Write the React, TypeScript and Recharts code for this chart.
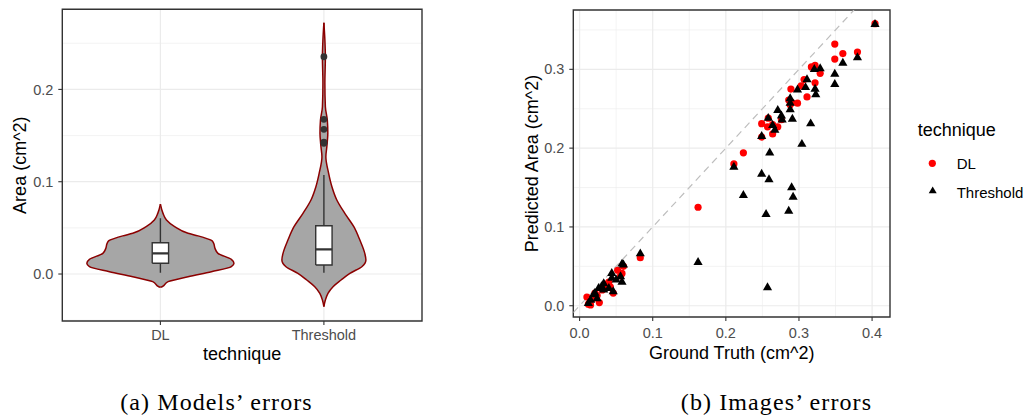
import {
  Area,
  CartesianGrid,
  ComposedChart,
  Line,
  ReferenceArea,
  Scatter,
  ScatterChart,
  XAxis,
  YAxis,
} from "recharts";

const techniques = ["DL", "Threshold"];

// violin outlines: area value and half width (category units)
const dlViolinY = [-0.0144, -0.0138, -0.0083, -0.0029, 0.0025, 0.0079, 0.0116, 0.0159, 0.0224, 0.0278, 0.0332, 0.0362, 0.0386, 0.0413, 0.0441, 0.0513, 0.0585, 0.0657, 0.0758];
const dlViolinHalf = [0, 0.01, 0.047, 0.169, 0.312, 0.434, 0.45, 0.434, 0.352, 0.334, 0.326, 0.315, 0.28, 0.23, 0.169, 0.087, 0.037, 0.016, 0];

const thViolinY = [-0.0354, -0.0282, -0.0209, -0.0137, -0.0065, 0.0007, 0.0079, 0.0152, 0.0224, 0.0368, 0.0513, 0.0657, 0.0802, 0.0946, 0.1091, 0.1271, 0.1379, 0.1524, 0.1668, 0.1813, 0.2066, 0.2354, 0.2535, 0.2723];
const thViolinHalf = [0, 0.009, 0.025, 0.056, 0.105, 0.159, 0.232, 0.257, 0.25, 0.22, 0.183, 0.128, 0.079, 0.049, 0.029, 0.012, 0.018, 0.024, 0.021, 0.009, 0.006, 0.009, 0.006, 0];

// [whisker low, q1, median, q3, whisker high]
const dlBox = [0.0014, 0.0116, 0.0224, 0.0339, 0.0603];
const thBox = [0.0014, 0.0098, 0.0268, 0.0523, 0.1073];
const thOutliers = [0.2354, 0.1676, 0.1568, 0.143, 0.1416];

// panel (b): ground truth vs predicted area
const dlTruth = [0.404, 0.349, 0.36, 0.38, 0.349, 0.322, 0.317, 0.329, 0.322, 0.307, 0.303, 0.289, 0.311, 0.286, 0.298, 0.288, 0.258, 0.249, 0.257, 0.271, 0.264, 0.249, 0.224, 0.211, 0.162, 0.083, 0.06, 0.058, 0.056, 0.042, 0.046, 0.035, 0.027, 0.015, 0.01, 0.012, 0.021, 0.031, 0.024, 0.018, 0.04, 0.052, 0.276, 0.264, 0.29];
const dlPred = [0.358, 0.332, 0.32, 0.322, 0.313, 0.305, 0.303, 0.295, 0.283, 0.287, 0.279, 0.275, 0.265, 0.261, 0.257, 0.255, 0.238, 0.231, 0.227, 0.227, 0.218, 0.214, 0.194, 0.18, 0.125, 0.061, 0.05, 0.041, 0.038, 0.024, 0.016, 0.027, 0.004, 0.001, 0.011, 0.002, 0.016, 0.02, 0.013, 0.009, 0.03, 0.045, 0.236, 0.23, 0.258];

const thTruth = [0.404, 0.36, 0.38, 0.349, 0.349, 0.329, 0.321, 0.311, 0.309, 0.298, 0.322, 0.323, 0.288, 0.288, 0.288, 0.271, 0.276, 0.291, 0.258, 0.277, 0.264, 0.267, 0.316, 0.249, 0.304, 0.26, 0.249, 0.259, 0.224, 0.29, 0.292, 0.255, 0.286, 0.257, 0.211, 0.162, 0.083, 0.058, 0.06, 0.056, 0.044, 0.058, 0.046, 0.033, 0.026, 0.033, 0.019, 0.015, 0.012, 0.04, 0.024, 0.044, 0.03, 0.021, 0.05];
const thPred = [0.357, 0.308, 0.315, 0.294, 0.281, 0.301, 0.3, 0.287, 0.277, 0.274, 0.275, 0.268, 0.263, 0.257, 0.249, 0.248, 0.241, 0.237, 0.238, 0.236, 0.229, 0.223, 0.231, 0.215, 0.205, 0.194, 0.167, 0.16, 0.14, 0.15, 0.138, 0.116, 0.12, 0.023, 0.176, 0.055, 0.066, 0.053, 0.052, 0.037, 0.041, 0.03, 0.018, 0.028, 0.022, 0.02, 0.014, 0.007, 0.003, 0.022, 0.009, 0.035, 0.024, 0.016, 0.033];

const axisTick = { fill: "#4D4D4D", fontSize: 14.5 };
const titleStyle = { fill: "#000", fontSize: 18, textAnchor: "middle" as const };
const BOX_HALF = 0.05;

const violinRows = (ys: number[], hw: number[], pos: number) =>
  ys.map((y, i) => ({ y, band: [pos - hw[i], pos + hw[i]] }));
const boxFillRows = (b: number[], pos: number) => [
  { y: b[1], band: [pos - BOX_HALF, pos + BOX_HALF] },
  { y: b[3], band: [pos - BOX_HALF, pos + BOX_HALF] },
];
const boxEdgeRows = (b: number[], pos: number) => [
  { x: pos - BOX_HALF, y: b[1] },
  { x: pos + BOX_HALF, y: b[1] },
  { x: pos + BOX_HALF, y: b[3] },
  { x: pos - BOX_HALF, y: b[3] },
  { x: pos - BOX_HALF, y: b[1] },
];

const toPoints = (xs: number[], ys: number[]) => xs.map((x, i) => ({ x, y: ys[i] }));

const Dot = (props: any) => <circle cx={props.cx} cy={props.cy} r={3.6} fill="#FF0000" />;
const Tri = (props: any) => {
  const { cx, cy } = props;
  const r = 5.3;
  return (
    <path
      d={`M${cx},${cy - r}L${cx + r * 0.866},${cy + r / 2}L${cx - r * 0.866},${cy + r / 2}Z`}
      fill="#000"
    />
  );
};
const Outlier = (props: any) => <circle cx={props.cx} cy={props.cy} r={3.4} fill="#333333" />;

function ViolinPanel() {
  const boxes = [dlBox, thBox];
  return (
    <ComposedChart
      layout="vertical"
      width={440}
      height={380}
      margin={{ top: 9.3, right: 18, bottom: 0, left: 12.3 }}
    >
      <CartesianGrid stroke="#EBEBEB" strokeWidth={0.6} horizontalValues={[-0.05, 0.05, 0.15, 0.25]} vertical={false} />
      <CartesianGrid stroke="#EBEBEB" strokeWidth={1.2} horizontalValues={[0, 0.1, 0.2]} verticalValues={[1, 2]} />
      <XAxis
        type="number"
        domain={[0.4, 2.6]}
        allowDataOverflow
        ticks={[1, 2]}
        tickFormatter={(v: number) => techniques[v - 1]}
        tick={axisTick}
        tickSize={4}
        tickMargin={5}
        axisLine={false}
        tickLine={{ stroke: "#333", strokeWidth: 1.1 }}
        height={59}
        label={{ value: "technique", position: "insideBottom", offset: 20, style: titleStyle }}
      />
      <YAxis
        type="number"
        dataKey="y"
        reversed
        domain={[-0.0509, 0.2868]}
        allowDataOverflow
        ticks={[0, 0.1, 0.2]}
        tickFormatter={(v: number) => v.toFixed(1)}
        tick={axisTick}
        tickSize={4}
        tickMargin={5}
        axisLine={false}
        tickLine={{ stroke: "#333", strokeWidth: 1.1 }}
        width={50}
        label={{ value: "Area (cm^2)", angle: -90, position: "insideLeft", offset: 6.9, style: titleStyle }}
      />
      <Area
        data={violinRows(dlViolinY, dlViolinHalf, 1)}
        dataKey="band"
        type="monotone"
        fill="#A6A6A6"
        fillOpacity={1}
        stroke="#8B0000"
        strokeWidth={1.5}
        dot={false}
        activeDot={false}
        isAnimationActive={false}
      />
      <Area
        data={violinRows(thViolinY, thViolinHalf, 2)}
        dataKey="band"
        type="monotone"
        fill="#A6A6A6"
        fillOpacity={1}
        stroke="#8B0000"
        strokeWidth={1.5}
        dot={false}
        activeDot={false}
        isAnimationActive={false}
      />
      {boxes.map((b, i) => (
        <Area
          key={`fill${i}`}
          data={boxFillRows(b, i + 1)}
          dataKey="band"
          type="linear"
          fill="#FFFFFF"
          fillOpacity={1}
          stroke="none"
          dot={false}
          activeDot={false}
          isAnimationActive={false}
        />
      ))}
      {boxes.map((b, i) => (
        <Line
          key={`edge${i}`}
          data={boxEdgeRows(b, i + 1)}
          dataKey="x"
          type="linear"
          stroke="#333333"
          strokeWidth={1.4}
          dot={false}
          activeDot={false}
          isAnimationActive={false}
        />
      ))}
      {boxes.map((b, i) => (
        <Line
          key={`lo${i}`}
          data={[{ x: i + 1, y: b[0] }, { x: i + 1, y: b[1] }]}
          dataKey="x"
          type="linear"
          stroke="#333333"
          strokeWidth={1.4}
          dot={false}
          activeDot={false}
          isAnimationActive={false}
        />
      ))}
      {boxes.map((b, i) => (
        <Line
          key={`hi${i}`}
          data={[{ x: i + 1, y: b[3] }, { x: i + 1, y: b[4] }]}
          dataKey="x"
          type="linear"
          stroke="#333333"
          strokeWidth={1.4}
          dot={false}
          activeDot={false}
          isAnimationActive={false}
        />
      ))}
      {boxes.map((b, i) => (
        <Line
          key={`med${i}`}
          data={[{ x: i + 1 - BOX_HALF, y: b[2] }, { x: i + 1 + BOX_HALF, y: b[2] }]}
          dataKey="x"
          type="linear"
          stroke="#333333"
          strokeWidth={2.2}
          dot={false}
          activeDot={false}
          isAnimationActive={false}
        />
      ))}
      <Scatter
        data={thOutliers.map((y) => ({ x: 2, y }))}
        dataKey="x"
        shape={Outlier}
        isAnimationActive={false}
      />
      <ReferenceArea x1={0.4} x2={2.6} y1={-0.0509} y2={0.2868} fill="none" stroke="#333333" strokeWidth={1.4} />
    </ComposedChart>
  );
}

function ScatterPanel() {
  return (
    <ScatterChart width={440} height={380} margin={{ top: 10, right: 20, bottom: 0, left: 53.3 }}>
      <CartesianGrid
        stroke="#EBEBEB"
        strokeWidth={0.6}
        horizontalValues={[0.05, 0.15, 0.25, 0.35]}
        verticalValues={[0.05, 0.15, 0.25, 0.35]}
      />
      <CartesianGrid
        stroke="#EBEBEB"
        strokeWidth={1.2}
        horizontalValues={[0, 0.1, 0.2, 0.3]}
        verticalValues={[0, 0.1, 0.2, 0.3, 0.4]}
      />
      <XAxis
        type="number"
        dataKey="x"
        domain={[-0.0086, 0.4245]}
        allowDataOverflow
        ticks={[0, 0.1, 0.2, 0.3, 0.4]}
        tickFormatter={(v: number) => v.toFixed(1)}
        tick={axisTick}
        tickSize={4}
        tickMargin={7}
        axisLine={false}
        tickLine={{ stroke: "#333", strokeWidth: 1.1 }}
        height={63}
        label={{ value: "Ground Truth (cm^2)", position: "insideBottom", offset: 21, style: titleStyle }}
      />
      <YAxis
        type="number"
        dataKey="y"
        domain={[-0.0143, 0.3753]}
        allowDataOverflow
        ticks={[0, 0.1, 0.2, 0.3]}
        tickFormatter={(v: number) => v.toFixed(1)}
        tick={axisTick}
        tickSize={4}
        tickMargin={5}
        axisLine={false}
        tickLine={{ stroke: "#333", strokeWidth: 1.1 }}
        width={50}
        label={{ value: "Predicted Area (cm^2)", angle: -90, position: "insideLeft", offset: 8.4, style: titleStyle }}
      />
      <Scatter
        data={[{ x: -0.0086, y: -0.0086 }, { x: 0.3753, y: 0.3753 }]}
        line={{ stroke: "#BEBEBE", strokeWidth: 1.2, strokeDasharray: "7 5" }}
        shape={() => null}
        isAnimationActive={false}
      />
      <Scatter data={toPoints(dlTruth, dlPred)} shape={Dot} isAnimationActive={false} />
      <Scatter data={toPoints(thTruth, thPred)} shape={Tri} isAnimationActive={false} />
      <ReferenceArea x1={-0.0086} x2={0.4245} y1={-0.0143} y2={0.3753} fill="none" stroke="#333333" strokeWidth={1.4} />
    </ScatterChart>
  );
}

export default function App() {
  return (
    <div
      style={{
        position: "absolute",
        left: 0,
        top: 0,
        width: 1030,
        height: 416,
        background: "#fff",
        fontFamily: "'Liberation Sans', Arial, sans-serif",
      }}
    >
      <div style={{ position: "absolute", left: 0, top: 0 }}>
        <ViolinPanel />
      </div>
      <div style={{ position: "absolute", left: 470, top: 0 }}>
        <ScatterPanel />
      </div>
      <svg width={1030} height={416} style={{ position: "absolute", left: 0, top: 0, pointerEvents: "none" }}>
        <text x={917.7} y={136} fontSize={18} fill="#000">technique</text>
        <circle cx={932.3} cy={163.3} r={3.6} fill="#FF0000" />
        <text x={956.7} y={169.3} fontSize={15} fill="#000">DL</text>
        <path d="M932.7,186.4L936.7,193.3L928.7,193.3Z" fill="#000" />
        <text x={956.7} y={197.5} fontSize={15} fill="#000">Threshold</text>
        <g fontFamily="'Liberation Serif', 'Times New Roman', serif" fontSize={24} letterSpacing={1.1} fill="#000" textAnchor="middle">
          <text x={216.5} y={410}>(a) Models’ errors</text>
          <text x={776.5} y={410}>(b) Images’ errors</text>
        </g>
      </svg>
    </div>
  );
}
